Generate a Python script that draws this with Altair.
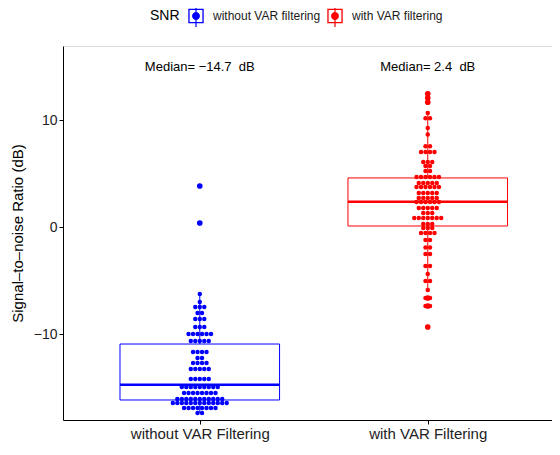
import json
import altair as alt
import pandas as pd

# ---------------- data ----------------
groups = ["without VAR filtering", "with VAR filtering"]      # legend labels
x_labels = ["without VAR Filtering", "with VAR Filtering"]    # axis labels
colors = ["#0000FF", "#FF0000"]

# dot-plot bins (dB) and number of stacked dots in each bin
blue_bins = [3.88, 0.42, -6.21, -6.96, -7.43, -7.99, -8.55, -9.30, -9.95, -10.61,
             -11.64, -12.20, -12.66, -13.22, -14.16, -14.91, -15.47, -16.03,
             -16.40, -16.87, -17.34]
blue_counts = [1, 1, 1, 1, 3, 2, 3, 3, 6, 5, 4, 2, 4, 5, 5, 9, 8, 11, 13, 8, 2]

red_bins = [12.5, 12.1, 11.7, 10.7, 10.2, 9.3, 8.7, 7.6, 7.06, 6.12, 5.75, 5.28,
            4.72, 4.16, 3.78, 3.22, 2.76, 2.38, 1.82, 1.36, 0.89, 0.33, -0.05,
            -0.51, -1.17, -1.87, -2.48, -3.6, -4.35, -5.0, -5.84, -6.59, -7.34, -9.3]
red_counts = [1, 1, 1, 1, 2, 1, 1, 2, 4, 3, 2, 2, 6, 5, 6, 5, 5, 6, 5, 3, 7, 3, 3,
              4, 2, 2, 2, 2, 1, 2, 1, 2, 2, 1]

# box-plot statistics
q1 = [-16.12, 0.14]
median = [-14.7, 2.4]
q3 = [-10.89, 4.63]
whisker_lo = [-17.34, -5.84]
whisker_hi = [-6.21, 10.7]
outliers = [[3.88, 0.42], [12.5, 12.1, 11.7, -6.59, -7.34, -9.3]]

label_y = 15  # y (dB) of the median annotations

# ---------------- tables ----------------
DOT_STEP = 0.0197   # horizontal spacing of stacked dots (x units)
BOX_HALF = 0.35     # half width of the boxes (x units)

dot_rows = []
for gi, (bins, counts) in enumerate([(blue_bins, blue_counts), (red_bins, red_counts)]):
    for v, n in zip(bins, counts):
        for k in range(n):
            dot_rows.append({"group": groups[gi], "gi": gi + 1, "value": v,
                             "slot": k - (n - 1) / 2})
dots = pd.DataFrame(dot_rows)

out_rows = []
for gi, vals in enumerate(outliers):
    for v in vals:
        out_rows.append({"group": groups[gi], "gi": gi + 1, "value": v})
outs = pd.DataFrame(out_rows)


def fmt(m):
    return f"{m:.1f}".replace("-", "\u2212")


boxes = pd.DataFrame({
    "group": groups,
    "gi": [1, 2],
    "q1": q1, "median": median, "q3": q3,
    "lo": whisker_lo, "hi": whisker_hi,
    "label": [f"Median= {fmt(m)}\u00a0 dB" for m in median],
    "ly": [label_y, label_y],
})

# ---------------- scales / axes ----------------
FONT = "Liberation Sans"
xscale = alt.Scale(domain=[0.4, 2.545], nice=False, zero=False)
yscale = alt.Scale(domain=[-17.99, 16.96], nice=False, zero=False)

x_axis = alt.Axis(values=[1, 2], labelExpr=f"{json.dumps(x_labels)}[datum.value - 1]",
                  title=None, grid=False, tickSize=4, tickColor="black",
                  domainColor="black", domainWidth=1, labelFontSize=15,
                  labelColor="#222222", labelPadding=2, labelFont=FONT)
y_axis = alt.Axis(values=[-10, 0, 10], title="Signal\u2013to\u2013noise Ratio (dB)",
                  grid=False, tickSize=4, tickColor="black", domainColor="black",
                  domainWidth=1, labelFontSize=14, labelColor="#222222",
                  labelPadding=2, labelFont=FONT, titleFont=FONT, titleFontSize=15,
                  titleFontWeight="normal", titleColor="black", titlePadding=8)


def X(field):
    return alt.X(field, type="quantitative", scale=xscale, axis=x_axis)


def Y(field):
    return alt.Y(field, type="quantitative", scale=yscale, axis=y_axis)


key_path = ("M-0.7,-0.66L0.7,-0.66L0.7,0.66L-0.7,0.66Z"
            "M-0.58,-0.54L-0.58,0.54L0.58,0.54L0.58,-0.54Z"
            "M-0.055,-1L0.055,-1L0.055,-0.66L-0.055,-0.66Z"
            "M-0.055,0.66L0.055,0.66L0.055,1L-0.055,1Z"
            "M-0.055,-0.54L0.055,-0.54L0.055,0.54L-0.055,0.54Z"
            "M0.36,0A0.36,0.36 0 1,1 -0.36,0A0.36,0.36 0 1,1 0.36,0Z")

legend = alt.Legend(orient="none", legendX=87, legendY=-41, direction="horizontal",
                    title="SNR", titleOrient="left", titleFontSize=14,
                    titleFontWeight="normal", titleColor="black", titleFont=FONT,
                    titleBaseline="middle", titlePadding=5,
                    labelFontSize=12, labelColor="#1a1a1a", labelFont=FONT,
                    symbolType=key_path, symbolSize=484, symbolStrokeWidth=0,
                    symbolOpacity=1, labelOffset=6, columnPadding=3, padding=0)
color_enc = alt.Color("group:N", scale=alt.Scale(domain=groups, range=colors), legend=legend)

# ---------------- layers ----------------
dot_layer = alt.Chart(dots).transform_calculate(
    xd=f"datum.gi + datum.slot * {DOT_STEP}"
).mark_circle(size=20, opacity=1).encode(
    x=X("xd"), y=Y("value"), color=color_enc)

out_layer = alt.Chart(outs).mark_circle(size=32, opacity=1).encode(
    x=X("gi"), y=Y("value"), color=color_enc)

box_base = alt.Chart(boxes).transform_calculate(
    xlo=f"datum.gi - {BOX_HALF}", xhi=f"datum.gi + {BOX_HALF}")

box = box_base.mark_rect(filled=False, strokeWidth=1).encode(
    x=X("xlo"), x2="xhi:Q", y=Y("q1"), y2="q3:Q", color=color_enc)
upper = box_base.mark_rule(strokeWidth=1).encode(
    x=X("gi"), y=Y("q3"), y2="hi:Q", color=color_enc)
lower = box_base.mark_rule(strokeWidth=1).encode(
    x=X("gi"), y=Y("lo"), y2="q1:Q", color=color_enc)
med = box_base.mark_rule(strokeWidth=2.6).encode(
    x=X("xlo"), x2="xhi:Q", y=Y("median"), color=color_enc)

text = box_base.mark_text(font=FONT, fontSize=13, color="black", baseline="middle").encode(
    x=X("gi"), y=Y("ly"), text="label:N")

chart = alt.layer(dot_layer, out_layer, box, upper, lower, med, text).properties(
    width=489, height=374,
    autosize=alt.AutoSizeParams(type="none"),
    padding={"left": 55, "top": 38, "right": 0, "bottom": 23},
).configure_view(stroke=None).configure(font=FONT)

chart.save("out.html", embed_options={"renderer": "svg", "actions": False})
